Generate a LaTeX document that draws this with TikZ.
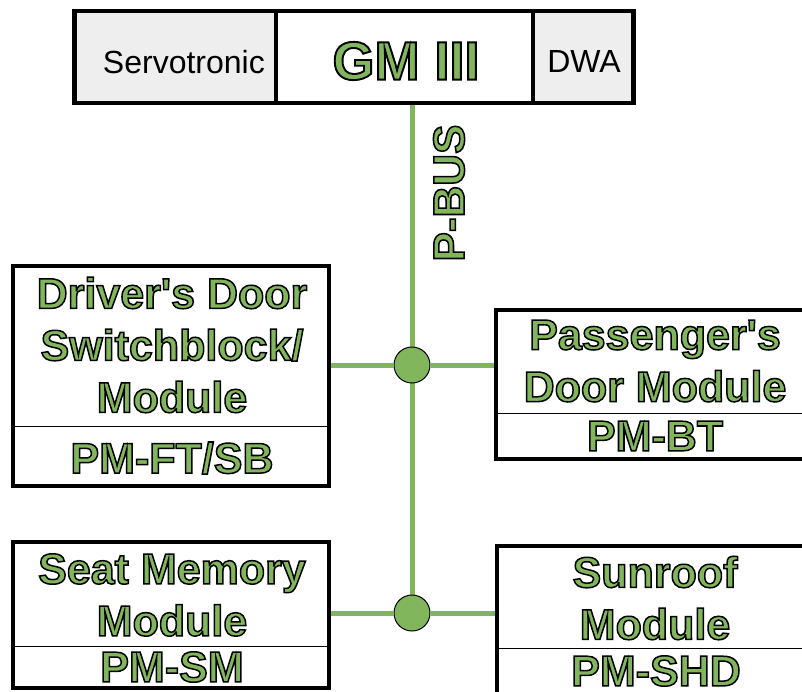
\documentclass[tikz,border=0pt]{standalone}
\usepackage{fontspec}
\setmainfont{Liberation Sans}
\newfontfamily\rimfont{Liberation Sans Bold}[FakeBold=3.5]
\usepackage{tikz}
\usetikzlibrary{calc}

\definecolor{busgreen}{RGB}{130,182,92}
\definecolor{cellgray}{RGB}{238,238,238}

% outlined lettering: green fill, black rim
\newcommand\rimblack{\special{pdf:literal direct 0 0 0 RG}}

\begin{document}
\begin{tikzpicture}[x=1pt,y=-1pt,
    box/.style={draw=black,line width=4.5pt,fill=white,rectangle,inner sep=0pt},
    cell/.style={box,fill=cellgray},
    grntxt/.style={text=busgreen,align=center,inner sep=0pt},
    modtxt/.style={grntxt,font=\fontsize{43}{52}\selectfont\rimfont},
    plaintxt/.style={font=\fontsize{32}{36}\selectfont,inner sep=0pt},
    bus/.style={busgreen,line width=5pt},
    junc/.style={circle,draw=black,line width=1pt,fill=busgreen,minimum size=36pt,inner sep=0pt}]
\useasboundingbox (0,0) rectangle (802,691);

% central gateway
\node[cell,minimum width=201.5pt,minimum height=92pt](srv)at(175.25,57){};
\node[box,minimum width=257pt,minimum height=92pt](gm)at(404.5,57){};
\node[cell,minimum width=100.5pt,minimum height=92pt](dwa)at(583.25,57){};
\node[plaintxt,anchor=east](srvtxt)at(265,62){Servotronic};
\node[plaintxt](dwatxt)at(584,61){DWA};
\node[grntxt,font=\fontsize{54}{60}\selectfont\rimfont](gmtxt)at(406,61){\rimblack GM III};

% modules
\node[box,minimum width=316pt,minimum height=220pt](drv)at(171,376){};
\node[box,minimum width=318pt,minimum height=149pt](pas)at(655,384.5){};
\node[box,minimum width=316pt,minimum height=146pt](seat)at(171,615){};
\node[box,minimum width=318pt,minimum height=220pt](sun)at(656,656){};

\draw[line width=1pt] (drv.west |- 0,426) -- (drv.east |- 0,426);
\draw[line width=1pt] (pas.west |- 0,413) -- (pas.east |- 0,413);
\draw[line width=1pt] (seat.west |- 0,646) -- (seat.east |- 0,646);
\draw[line width=1pt] (sun.west |- 0,648) -- (sun.east |- 0,648);

\node[modtxt](drvname)at(172,345){\rimblack Driver\textquotesingle s Door\\\rimblack Switchblock/\\\rimblack Module};
\node[modtxt](drvcode)at(172,458){\rimblack PM-FT/SB};
\node[modtxt](pasname)at(655,361){\rimblack Passenger\textquotesingle s\\\rimblack Door Module};
\node[modtxt](pascode)at(655,436){\rimblack PM-BT};
\node[modtxt](seatname)at(172,595){\rimblack Seat Memory\\\rimblack Module};
\node[modtxt](seatcode)at(172,667){\rimblack PM-SM};
\node[modtxt](sunname)at(655,598){\rimblack Sunroof\\\rimblack Module};
\node[modtxt](suncode)at(656,671){\rimblack PM-SHD};

% P-BUS
\draw[bus] (gm.south -| 412,0) -- (412,613);
\node[junc](j1)at(412,365){};
\node[junc](j2)at(412,613){};
\draw[bus] (drv.east |- j1) -- (j1.west);
\draw[bus] (j1.east) -- (pas.west |- j1);
\draw[bus] (seat.east |- j2) -- (j2.west);
\draw[bus] (j2.east) -- (sun.west |- j2);
\node[modtxt,font=\fontsize{44}{50}\selectfont\rimfont,rotate=90](bustxt)at(449,193){\rimblack P-BUS};
\end{tikzpicture}
\end{document}
